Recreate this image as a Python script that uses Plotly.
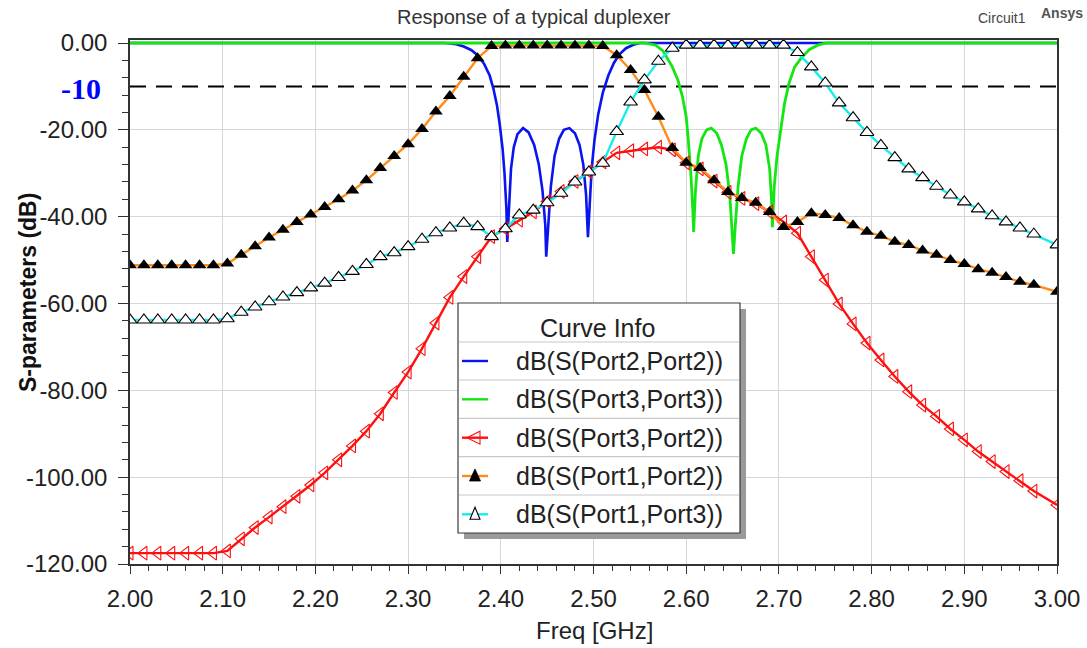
import plotly.graph_objects as go

# ---------------- data ----------------
FREQ_MARK = [2.000, 2.015, 2.030, 2.045, 2.060, 2.075, 2.090, 2.105, 2.120, 2.135,
             2.150, 2.165, 2.180, 2.195, 2.210, 2.225, 2.240, 2.255, 2.270, 2.285,
             2.300, 2.315, 2.330, 2.345, 2.360, 2.375, 2.390, 2.405, 2.420, 2.435,
             2.450, 2.465, 2.480, 2.495, 2.510, 2.525, 2.540, 2.555, 2.570, 2.585,
             2.600, 2.615, 2.630, 2.645, 2.660, 2.675, 2.690, 2.705, 2.720, 2.735,
             2.750, 2.765, 2.780, 2.795, 2.810, 2.825, 2.840, 2.855, 2.870, 2.885,
             2.900, 2.915, 2.930, 2.945, 2.960, 2.975, 3.000]

S12_DB = [-51.2, -51.2, -51.2, -51.2, -51.2, -51.2, -51.2, -50.8, -48.8, -46.8,
          -44.8, -43.0, -41.2, -39.5, -37.8, -36.0, -34.0, -31.6, -28.8, -26.0,
          -23.3, -19.8, -15.8, -12.2, -7.8, -3.5, -0.7, -0.6, -0.6, -0.6,
          -0.6, -0.6, -0.6, -0.6, -0.7, -2.8, -6.2, -10.8, -17.0, -24.2,
          -27.6, -28.8, -31.6, -34.3, -35.7, -36.8, -38.9, -42.4, -41.2, -39.2,
          -39.6, -40.3, -42.0, -43.5, -44.4, -45.8, -46.5, -47.8, -48.8, -50.0,
          -50.9, -52.1, -52.9, -53.9, -55.0, -55.7, -57.3]

S13_DB = [-63.8, -63.8, -63.8, -63.8, -63.8, -63.8, -63.8, -63.5, -62.0, -60.8,
          -59.6, -58.5, -57.5, -56.4, -55.3, -54.0, -52.6, -51.0, -49.2, -48.3,
          -46.9, -45.2, -43.7, -42.6, -41.5, -42.3, -44.6, -42.8, -39.6, -38.5,
          -36.8, -34.6, -32.0, -29.7, -27.7, -20.4, -13.6, -8.5, -4.2, -1.2,
          -0.5, -0.5, -0.5, -0.5, -0.5, -0.5, -0.5, -0.5, -2.2, -5.5,
          -9.2, -13.8, -17.2, -20.6, -23.6, -26.4, -29.0, -31.0, -33.0, -35.0,
          -36.6, -38.2, -39.8, -41.2, -42.6, -44.0, -46.5]

S32_DB = [-117.5, -117.5, -117.5, -117.5, -117.5, -117.5, -117.5, -117.0, -114.2, -111.6,
          -109.2, -106.8, -104.4, -101.8, -99.0, -96.0, -92.8, -89.4, -85.4, -80.5,
          -75.8, -70.4, -64.5, -58.6, -53.8, -49.2, -44.6, -42.8, -40.8, -38.9,
          -36.5, -34.2, -31.9, -29.6, -27.4, -25.3, -24.8, -24.4, -24.0, -24.6,
          -27.6, -29.0, -31.8, -34.4, -35.8, -37.0, -38.9, -41.2, -43.8, -49.2,
          -54.6, -60.1, -64.7, -69.1, -73.0, -76.8, -80.3, -83.4, -86.0, -88.9,
          -91.4, -94.1, -96.4, -98.7, -100.8, -103.2, -106.4]

FREQ_S22 = [2.000, 2.340, 2.352, 2.360, 2.368, 2.375, 2.382, 2.388, 2.392, 2.396,
            2.399, 2.402, 2.404, 2.406, 2.407, 2.409, 2.411, 2.414, 2.418, 2.424,
            2.430, 2.436, 2.441, 2.445, 2.448, 2.449, 2.451, 2.454, 2.458, 2.463,
            2.468, 2.474, 2.480, 2.485, 2.489, 2.492, 2.494, 2.496, 2.498, 2.501,
            2.505, 2.510, 2.516, 2.522, 2.528, 2.535, 2.543, 2.550, 3.000]
S22_DB = [0.0, 0.0, -0.3, -0.8, -1.6, -2.8, -4.8, -7.5, -10.5, -14.5,
          -19.0, -24.5, -30.0, -38.0, -45.8, -36.0, -29.0, -24.0, -21.0, -19.6,
          -20.6, -23.5, -28.0, -34.0, -42.0, -49.2, -42.0, -33.0, -26.0, -22.0,
          -20.0, -19.6, -20.8, -23.5, -28.0, -35.0, -44.7, -36.0, -29.0, -22.5,
          -16.5, -11.5, -7.5, -4.6, -2.6, -1.2, -0.4, 0.0, 0.0]

FREQ_S33 = [2.000, 2.555, 2.567, 2.575, 2.585, 2.591, 2.596, 2.600, 2.602, 2.605,
            2.607, 2.608, 2.610, 2.613, 2.617, 2.622, 2.627, 2.633, 2.638, 2.643,
            2.647, 2.650, 2.651, 2.653, 2.656, 2.660, 2.665, 2.670, 2.675, 2.681,
            2.686, 2.690, 2.692, 2.693, 2.695, 2.698, 2.702, 2.706, 2.711, 2.717,
            2.725, 2.733, 2.742, 2.751, 3.000]
S33_DB = [0.0, 0.0, -0.5, -1.8, -5.5, -8.5, -12.4, -17.0, -21.6, -30.0,
          -38.0, -43.5, -34.0, -26.0, -22.0, -20.0, -19.6, -20.8, -23.5, -28.0,
          -35.0, -44.0, -48.6, -42.0, -33.0, -26.0, -22.0, -20.0, -19.6, -20.8,
          -23.5, -29.0, -36.0, -42.4, -33.0, -26.0, -20.0, -14.0, -9.2, -5.5,
          -3.2, -1.5, -0.5, 0.0, 0.0]

THRESHOLD_DB = -10
SERIES_NAMES = ["dB(S(Port2,Port2))", "dB(S(Port3,Port3))", "dB(S(Port3,Port2))",
                "dB(S(Port1,Port2))", "dB(S(Port1,Port3))"]
X_TICKS = [2.0, 2.1, 2.2, 2.3, 2.4, 2.5, 2.6, 2.7, 2.8, 2.9, 3.0]
X_TICK_TEXT = ["2.00", "2.10", "2.20", "2.30", "2.40", "2.50", "2.60", "2.70",
               "2.80", "2.90", "3.00"]
Y_TICKS = [0, -20, -40, -60, -80, -100, -120]
Y_TICK_TEXT = ["0.00", "-20.00", "-40.00", "-60.00", "-80.00", "-100.00", "-120.00"]

# ---------------- layout geometry ----------------
W, H = 1087, 648
ML, MR, MT, MB = 130, 30, 40, 84
PW, PH = W - ML - MR, H - MT - MB
FONT = "Liberation Sans, Arial, sans-serif"

BLUE, GREEN, RED, ORANGE, CYAN = "#0a14f0", "#14e614", "#ff1010", "#ff8c1a", "#19ecec"


def px(x):
    return (x - ML) / PW


def py(y):
    return (H - MB - y) / PH


fig = go.Figure()

fig.add_trace(go.Scatter(x=[X_TICKS[0], X_TICKS[-1]], y=[THRESHOLD_DB, THRESHOLD_DB],
                         mode="lines", line=dict(color="black", width=2, dash="16px,10px"),
                         hoverinfo="skip", showlegend=False))
fig.add_trace(go.Scatter(x=FREQ_S22, y=S22_DB, mode="lines", name=SERIES_NAMES[0],
                         line=dict(color=BLUE, width=2.6)))
fig.add_trace(go.Scatter(x=FREQ_S33, y=S33_DB, mode="lines", name=SERIES_NAMES[1],
                         line=dict(color=GREEN, width=2.8)))
fig.add_trace(go.Scatter(x=FREQ_MARK, y=S32_DB, mode="lines+markers", name=SERIES_NAMES[2],
                         line=dict(color=RED, width=2.4),
                         marker=dict(symbol="triangle-left-open", size=12, color=RED,
                                     line=dict(width=1.1))))
fig.add_trace(go.Scatter(x=FREQ_MARK, y=S12_DB, mode="lines+markers", name=SERIES_NAMES[3],
                         line=dict(color=ORANGE, width=2.4),
                         marker=dict(symbol="triangle-up", size=12, color="black",
                                     line=dict(width=0))))
fig.add_trace(go.Scatter(x=FREQ_MARK, y=S13_DB, mode="lines+markers", name=SERIES_NAMES[4],
                         line=dict(color=CYAN, width=2.4),
                         marker=dict(symbol="triangle-up", size=12, color="white",
                                     line=dict(color="black", width=1.1))))

# ---------------- custom legend ("Curve Info") ----------------
LX0, LX1, LY0, LY1 = 458, 740, 303, 533
SEPS = [342, 380, 418.3, 456.7, 495]
ROWS = [361, 399.3, 437.7, 476, 514.3]
shapes = []
shapes.append(dict(type="rect", xref="paper", yref="paper",
                   x0=px(LX0 + 6), x1=px(LX1 + 6), y0=py(LY1 + 6), y1=py(LY0 + 6),
                   fillcolor="#9a9a9a", line=dict(width=0), layer="above"))
shapes.append(dict(type="rect", xref="paper", yref="paper",
                   x0=px(LX0), x1=px(LX1), y0=py(LY1), y1=py(LY0),
                   fillcolor="white", line=dict(color="#3a3a3a", width=1.2), layer="above"))
for s in SEPS:
    shapes.append(dict(type="line", xref="paper", yref="paper",
                       x0=px(LX0 + 1), x1=px(LX1 - 1), y0=py(s), y1=py(s),
                       line=dict(color="#c8c8c8", width=1.2), layer="above"))
line_cols = [BLUE, GREEN, RED, ORANGE, CYAN]
for cy, c in zip(ROWS, line_cols):
    shapes.append(dict(type="line", xref="paper", yref="paper",
                       x0=px(462), x1=px(488), y0=py(cy), y1=py(cy),
                       line=dict(color=c, width=2.4), layer="above"))


def tri(points):
    return "M " + " L ".join(f"{px(a):.5f},{py(b):.5f}" for a, b in points) + " Z"


cy = ROWS[2]
shapes.append(dict(type="path", xref="paper", yref="paper",
                   path=tri([(467, cy), (480, cy - 6.5), (480, cy + 6.5)]),
                   line=dict(color=RED, width=1.1), layer="above"))
cy = ROWS[3]
shapes.append(dict(type="path", xref="paper", yref="paper",
                   path=tri([(475, cy - 7), (469.5, cy + 5), (480.5, cy + 5)]),
                   fillcolor="black", line=dict(color="black", width=0.8), layer="above"))
cy = ROWS[4]
shapes.append(dict(type="path", xref="paper", yref="paper",
                   path=tri([(475, cy - 7), (470, cy + 5), (480, cy + 5)]),
                   fillcolor="white", line=dict(color="black", width=1.1), layer="above"))

annotations = []
annotations.append(dict(text="Curve Info", x=px(597), y=py(328), xref="paper", yref="paper",
                        showarrow=False, xanchor="center", yanchor="middle",
                        font=dict(family=FONT, size=25, color="#222")))
for cy, name in zip(ROWS, SERIES_NAMES):
    annotations.append(dict(text=name, x=px(514), y=py(cy), xref="paper", yref="paper",
                            showarrow=False, xanchor="left", yanchor="middle",
                            font=dict(family=FONT, size=25, color="#222")))

# titles and labels
annotations.append(dict(text="Response of a typical duplexer", x=px(534), y=py(17),
                        xref="paper", yref="paper", showarrow=False,
                        xanchor="center", yanchor="middle",
                        font=dict(family=FONT, size=20, color="#333")))
annotations.append(dict(text="Circuit1", x=px(1002), y=py(18), xref="paper", yref="paper",
                        showarrow=False, xanchor="center", yanchor="middle",
                        font=dict(family=FONT, size=14, color="#444")))
annotations.append(dict(text="<b>Ansys</b>", x=px(1062), y=py(13), xref="paper", yref="paper",
                        showarrow=False, xanchor="center", yanchor="middle",
                        font=dict(family=FONT, size=14, color="#555")))
annotations.append(dict(text="<b>-10</b>", x=px(81), y=py(88), xref="paper", yref="paper",
                        showarrow=False, xanchor="center", yanchor="middle",
                        font=dict(family="Liberation Serif, Times New Roman, serif",
                                  size=30, color="#0000ff")))
annotations.append(dict(text="Freq [GHz]", x=px(594), y=py(630), xref="paper", yref="paper",
                        showarrow=False, xanchor="center", yanchor="middle",
                        font=dict(family=FONT, size=24, color="#222")))
annotations.append(dict(text="<b>S-parameters (dB)</b>", x=px(28), y=py(293),
                        xref="paper", yref="paper", showarrow=False, textangle=-90,
                        xanchor="center", yanchor="middle",
                        font=dict(family=FONT, size=23, color="#111")))

fig.update_layout(
    width=W, height=H,
    margin=dict(l=ML, r=MR, t=MT, b=MB, pad=0),
    paper_bgcolor="white", plot_bgcolor="white",
    showlegend=False,
    font=dict(family=FONT, size=24, color="#222"),
    shapes=shapes, annotations=annotations,
    xaxis=dict(range=[2.0, 3.0], tickvals=X_TICKS, ticktext=X_TICK_TEXT,
               showgrid=True, gridcolor="#d6d6d6", gridwidth=1, zeroline=False,
               showline=True, linecolor="#333", linewidth=1.5, mirror=True,
               ticks="outside", ticklen=8, tickwidth=1.2, tickcolor="#333",
               ticklabelstandoff=4,
               minor=dict(dtick=0.02, tick0=2.0, ticks="outside", ticklen=5,
                          tickcolor="#333", showgrid=False),
               tickfont=dict(family=FONT, size=24, color="#222"), automargin=False),
    yaxis=dict(range=[-120, 0.691], tickvals=Y_TICKS, ticktext=Y_TICK_TEXT,
               showgrid=True, gridcolor="#d6d6d6", gridwidth=1, zeroline=False,
               showline=True, linecolor="#333", linewidth=1.5, mirror=True,
               ticks="outside", ticklen=10, tickwidth=1.2, tickcolor="#333",
               ticklabelstandoff=6,
               minor=dict(dtick=4, tick0=0, ticks="outside", ticklen=6,
                          tickcolor="#333", showgrid=False),
               tickfont=dict(family=FONT, size=24, color="#222"), automargin=False),
)

fig.write_html("out.html")
